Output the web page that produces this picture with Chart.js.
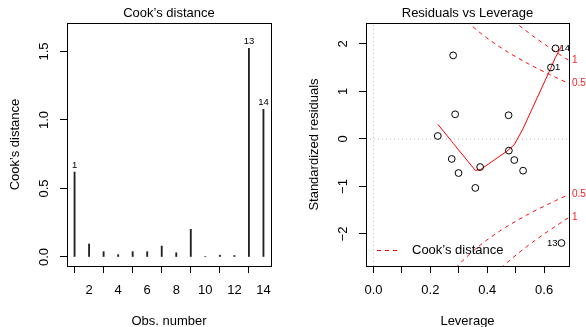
<!DOCTYPE html>
<html><head><meta charset="utf-8">
<script src="https://cdn.jsdelivr.net/npm/chart.js@4.4.1/dist/chart.umd.min.js"></script>
<style>
html,body{margin:0;padding:0;background:#fff;}
#wrap{position:relative;width:586px;height:327px;overflow:hidden;}
.pane{position:absolute;top:0;width:293px;height:327px;}
</style></head>
<body>
<div id="wrap">
  <div class="pane" style="left:0"><canvas id="c1" width="293" height="327"></canvas></div>
  <div class="pane" style="left:293px"><canvas id="c2" width="293" height="327"></canvas></div>
</div>
<script>
// ---------- data ----------
const obsNumbers   = [1,2,3,4,5,6,7,8,9,10,11,12,13,14];
const cooksDist    = [0.62,0.095,0.039,0.017,0.039,0.039,0.08,0.031,0.202,0.004,0.013,0.011,1.523,1.078];
const cookLabeled  = [1,13,14];

const leverage     = [0.624,0.358,0.475,0.287,0.299,0.375,0.526,0.495,0.280,0.226,0.275,0.476,0.661,0.640];
const stdResiduals = [1.506,-1.03,0.50,0.52,-0.717,-0.59,-0.667,-0.443,1.76,0.063,-0.42,-0.245,-2.19,1.907];
const residLabeled = [1,13,14];
const residLabelSide = ['right','left','right'];

const smoothLeverage = [0.226,0.275,0.280,0.287,0.299,0.358,0.375,0.475,0.476,0.495,0.526,0.624,0.640,0.661];
const smoothResid    = [0.31,-0.05,-0.09,-0.14,-0.23,-0.66,-0.65,-0.23,-0.22,-0.12,0.22,1.50,1.72,1.95];

const cookLevels = [0.5, 1];
const nParams = 6;

const cookXTicks = [2,4,6,8,10,12,14];
const cookYTicks = [0,0.5,1,1.5];
const cookYTickLabels = ['0.0','0.5','1.0','1.5'];
const levXTicks = [0,0.1,0.2,0.3,0.4,0.5,0.6];
const levXTickLabels = ['0.0','','0.2','','0.4','','0.6'];
const resYTicks = [-2,-1,0,1,2];
const resYTickLabels = ['\u22122','\u22121','0','1','2'];

// ---------- helpers ----------
const FONT = '"Liberation Sans", Arial, Helvetica, sans-serif';
function txt(ctx, s, x, y, o) {
  o = o || {};
  ctx.save();
  ctx.font = (o.size || 13) + 'px ' + FONT;
  ctx.fillStyle = o.color || '#000';
  ctx.textAlign = o.align || 'center';
  ctx.textBaseline = o.baseline || 'middle';
  ctx.translate(x, y);
  if (o.rot) ctx.rotate(o.rot);
  ctx.fillText(s, 0, 0);
  ctx.restore();
}
function drawBox(ctx, a) {
  const l = Math.round(a.left), r = Math.round(a.right);
  const t = Math.round(a.top), b = Math.round(a.bottom);
  ctx.save();
  ctx.fillStyle = '#000';
  ctx.fillRect(l, t, r - l + 1, 1);
  ctx.fillRect(l, b, r - l + 1, 1);
  ctx.fillRect(l, t, 1, b - t + 1);
  ctx.fillRect(r, t, 1, b - t + 1);
  ctx.restore();
}
const tickGrid = { display: true, drawOnChartArea: false, drawTicks: true, tickLength: 7, color: '#000', lineWidth: 1 };
const blackBorder = { display: true, color: '#000', width: 1 };
function mainAxis(pos, min, max, ticks, size) {
  const horiz = pos === 'bottom';
  return {
    type: 'linear', position: pos, min: min, max: max, offset: false,
    afterBuildTicks: s => { s.ticks = ticks.map(v => ({value: v})); },
    afterFit: s => { if (horiz) s.height = size; else s.width = size; },
    grid: tickGrid, border: blackBorder, ticks: { display: false }
  };
}
function frameAxis(pos, min, max, size, axis) {
  const horiz = pos === 'top';
  return {
    type: 'linear', position: pos, axis: axis, min: min, max: max, offset: false,
    afterFit: s => { if (horiz) s.height = size; else s.width = size; },
    grid: { display: false, drawTicks: false }, border: blackBorder, ticks: { display: false }
  };
}
function tickLabels(ctx, chart, xs, xl, ys, yl) {
  const a = chart.chartArea, sx = chart.scales.x, sy = chart.scales.y;
  xs.forEach((v, i) => { if (xl[i]) txt(ctx, xl[i], sx.getPixelForValue(v), 290); });
  ys.forEach((v, i) => txt(ctx, yl[i], a.left - 22.5, sy.getPixelForValue(v), {rot: -Math.PI / 2}));
}

// ---------- left panel: Cook's distance ----------
const C_XMIN = 0.48, C_XMAX = 14.52, C_YMIN = -0.0657, C_YMAX = 1.708;
const cookPlugin = {
  id: 'cookDecor',
  afterDraw(chart) {
    const ctx = chart.ctx, a = chart.chartArea, sx = chart.scales.x, sy = chart.scales.y;
    tickLabels(ctx, chart, cookXTicks, cookXTicks.map(String), cookYTicks, cookYTickLabels);
    const cx = (a.left + a.right) / 2;
    txt(ctx, "Cook\u2019s distance", cx, 13);
    txt(ctx, 'Obs. number', cx, 321);
    txt(ctx, "Cook\u2019s distance", a.left - 52, (a.top + a.bottom) / 2, {rot: -Math.PI / 2});
    cookLabeled.forEach(n => {
      const i = obsNumbers.indexOf(n);
      txt(ctx, String(n), sx.getPixelForValue(n), sy.getPixelForValue(cooksDist[i]) - 7, {size: 9.5});
    });
    drawBox(ctx, a);
  }
};
new Chart(document.getElementById('c1'), {
  type: 'bar',
  data: { datasets: [{
    data: obsNumbers.map((x, i) => ({x: x, y: cooksDist[i]})),
    backgroundColor: '#222', borderWidth: 0, barThickness: 1.2, grouped: false
  }]},
  options: {
    responsive: false, animation: false, events: [],
    layout: { padding: 0 },
    plugins: { legend: { display: false }, tooltip: { enabled: false } },
    scales: {
      x: mainAxis('bottom', C_XMIN, C_XMAX, cookXTicks, 61),
      y: mainAxis('left', C_YMIN, C_YMAX, cookYTicks, 67),
      xTop: frameAxis('top', C_XMIN, C_XMAX, 23, 'x'),
      yRight: frameAxis('right', C_YMIN, C_YMAX, 22, 'y')
    }
  },
  plugins: [cookPlugin]
});

// ---------- right panel: Residuals vs Leverage ----------
const X_MIN = -0.0265, X_MAX = 0.6875, Y_MIN = -2.674, Y_MAX = 2.442;
function contour(level, sign) {
  const pts = [];
  const h0 = 0.01;
  for (let k = 0; k <= 100; k++) {
    const h = h0 + (X_MAX - h0) * k / 100;
    pts.push({x: h, y: sign * Math.sqrt(level * nParams * (1 - h) / h)});
  }
  return pts;
}
const refLines = [
  { type: 'line', data: [{x: X_MIN, y: 0}, {x: X_MAX, y: 0}], borderColor: '#bdbdbd', borderWidth: 1,
    borderDash: [1, 3], pointRadius: 0, fill: false, order: 5 },
  { type: 'line', data: [{x: 0, y: Y_MIN}, {x: 0, y: Y_MAX}], borderColor: '#bdbdbd', borderWidth: 1,
    borderDash: [1, 3], pointRadius: 0, fill: false, order: 5 }
];
const contourSets = [];
cookLevels.forEach(c => [1, -1].forEach(s => contourSets.push({
  type: 'line', data: contour(c, s), borderColor: '#ff0000', borderWidth: 1,
  borderDash: [4, 4], pointRadius: 0, fill: false, tension: 0, order: 3
})));

const resPlugin = {
  id: 'resDecor',
  afterDraw(chart) {
    const ctx = chart.ctx, a = chart.chartArea, sx = chart.scales.x, sy = chart.scales.y;
    tickLabels(ctx, chart, levXTicks, levXTickLabels, resYTicks, resYTickLabels);
    const cx = (a.left + a.right) / 2;
    txt(ctx, 'Residuals vs Leverage', cx, 13);
    txt(ctx, 'Leverage', cx, 321);
    txt(ctx, 'Standardized residuals', a.left - 52, (a.top + a.bottom) / 2, {rot: -Math.PI / 2});
    ctx.save();
    ctx.beginPath(); ctx.rect(a.left, a.top, a.right - a.left, a.bottom - a.top); ctx.clip();
    residLabeled.forEach((n, j) => {
      const i = obsNumbers.indexOf(n);
      const px = sx.getPixelForValue(leverage[i]), py = sy.getPixelForValue(stdResiduals[i]);
      if (residLabelSide[j] === 'right') txt(ctx, String(n), px + 4, py, {size: 9.5, align: 'left'});
      else txt(ctx, String(n), px - 4, py, {size: 9.5, align: 'right'});
    });
    ctx.restore();
    cookLevels.forEach(c => [1, -1].forEach(s => {
      const v = s * Math.sqrt(c * nParams * (1 - X_MAX) / X_MAX);
      txt(ctx, String(c), a.right + 3, sy.getPixelForValue(v), {size: 10, align: 'left', color: '#ff2020'});
    }));
    ctx.save();
    ctx.fillStyle = '#ff0000';
    const ly = Math.round(a.bottom - 16);
    for (let x = Math.round(a.left) + 11; x < a.left + 33; x += 8) ctx.fillRect(x, ly, 4, 1);
    ctx.restore();
    txt(ctx, "Cook\u2019s distance", a.left + 46, ly + 0.5, {align: 'left'});
    drawBox(ctx, a);
  }
};

new Chart(document.getElementById('c2'), {
  type: 'scatter',
  data: { datasets: refLines.concat(contourSets).concat([
    { type: 'line', data: smoothLeverage.map((x, i) => ({x: x, y: smoothResid[i]})),
      borderColor: '#ff0000', borderWidth: 1, pointRadius: 0, fill: false, tension: 0, order: 2 },
    { type: 'scatter', data: leverage.map((x, i) => ({x: x, y: stdResiduals[i]})),
      pointStyle: 'circle', pointRadius: 3.4, borderColor: '#000', borderWidth: 1,
      backgroundColor: 'rgba(0,0,0,0)', order: 1 }
  ])},
  options: {
    responsive: false, animation: false, events: [],
    layout: { padding: 0 },
    plugins: { legend: { display: false }, tooltip: { enabled: false } },
    scales: {
      x: mainAxis('bottom', X_MIN, X_MAX, levXTicks, 61),
      y: mainAxis('left', Y_MIN, Y_MAX, resYTicks, 73),
      xTop: frameAxis('top', X_MIN, X_MAX, 23, 'x'),
      yRight: frameAxis('right', Y_MIN, Y_MAX, 17, 'y')
    }
  },
  plugins: [resPlugin]
});
</script>
</body></html>
